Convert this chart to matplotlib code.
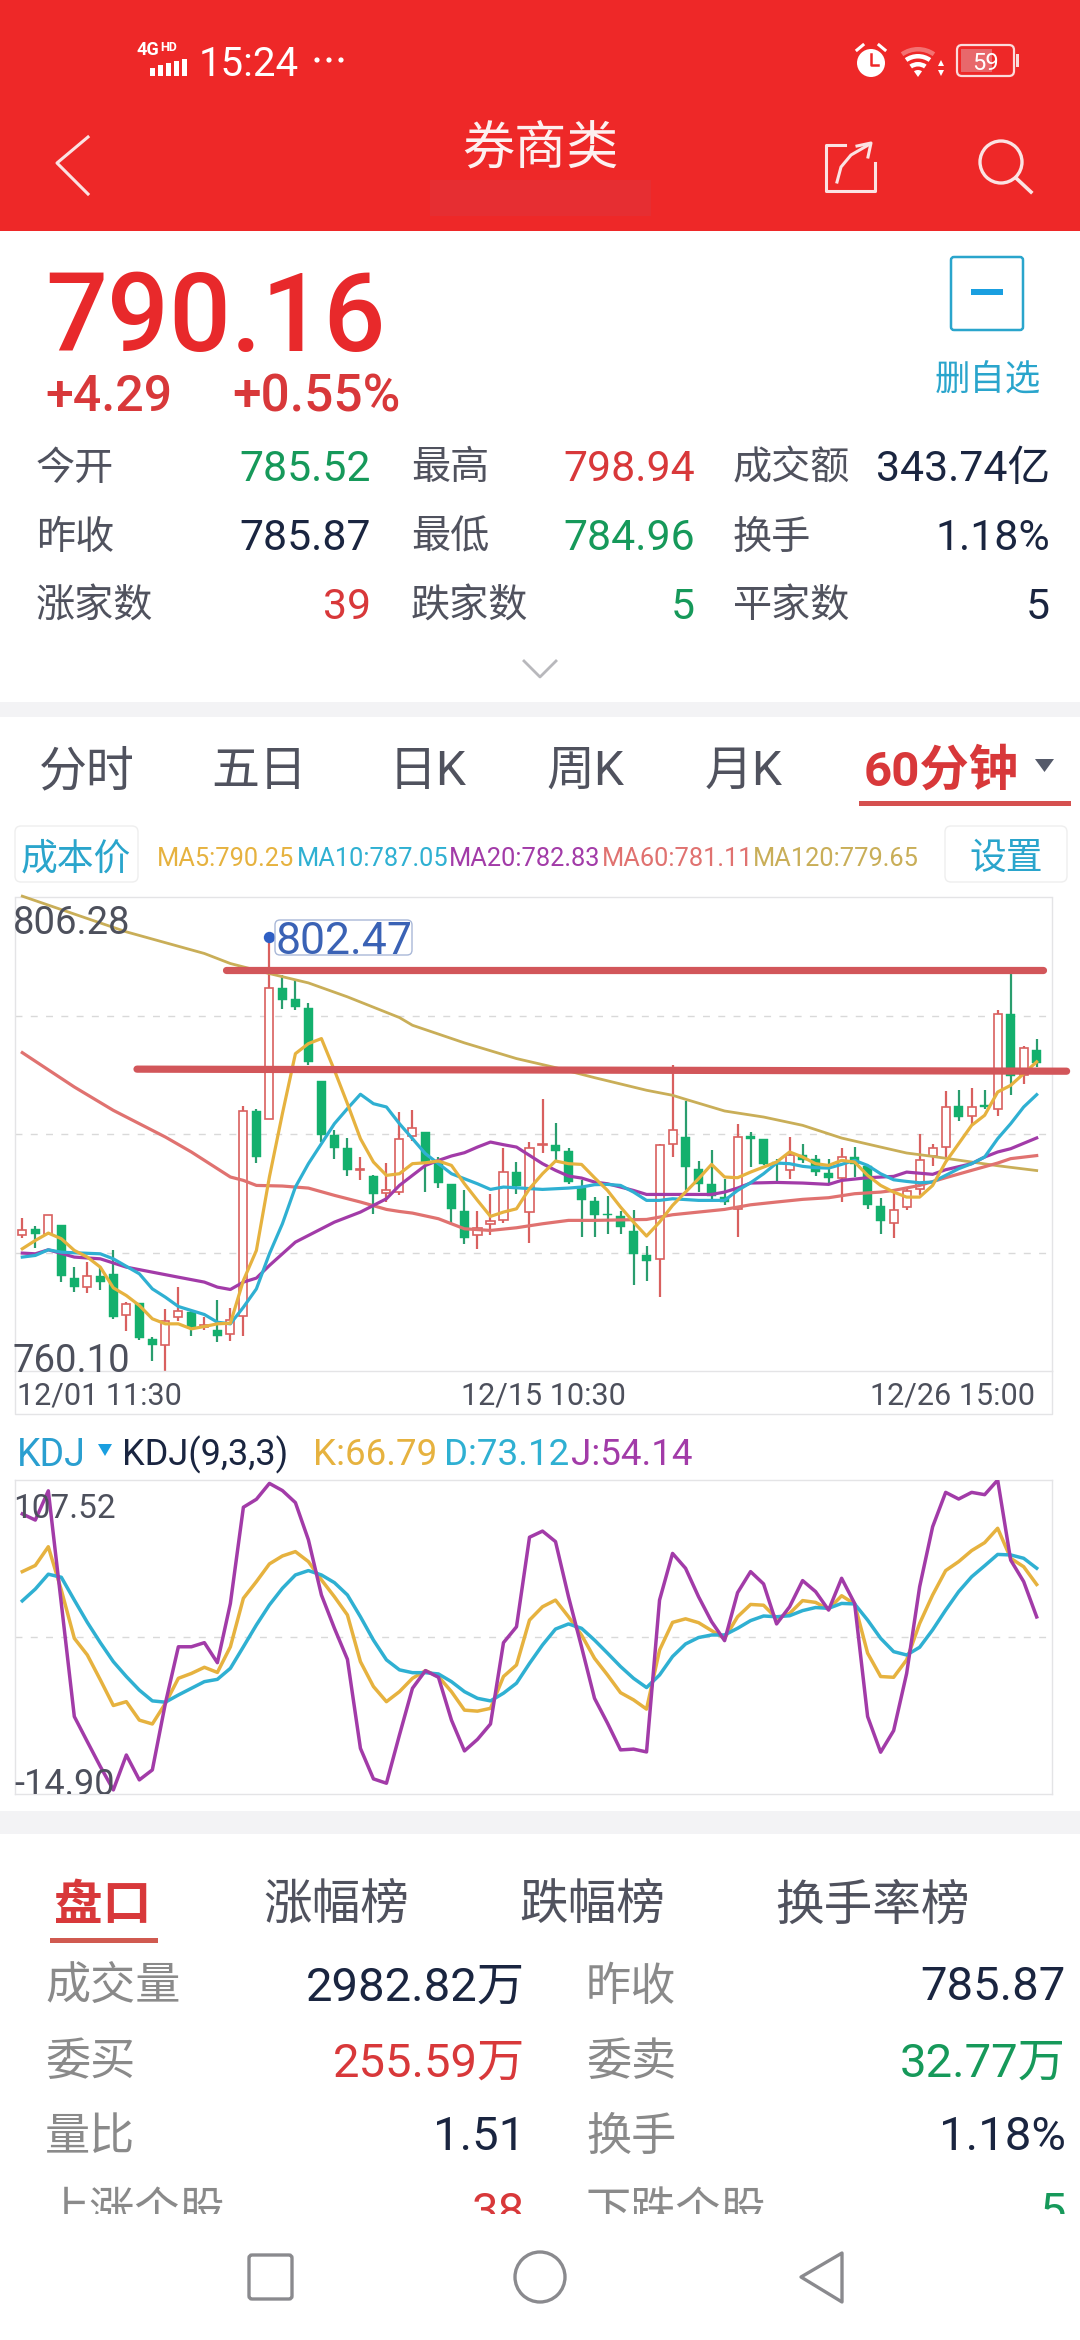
import numpy as np
import matplotlib
matplotlib.use("Agg")
import matplotlib.pyplot as plt
from matplotlib.patches import Rectangle, FancyBboxPatch, Circle, Polygon, Wedge

plt.rcParams['font.family'] = ['Roboto', 'Noto Sans CJK SC', 'DejaVu Sans']

# ---------- data ----------
opens = [773.35,773.97,773.48,774.36,769.19,768.28,769.32,769.58,765.61,766.75,763.23,762.65,765.35,765.84,764.37,764.11,763.72,765.51,785.43,784.68,
         797.50,796.42,795.55,788.35,783.15,781.88,779.67,779.11,777.45,777.55,782.99,783.41,780.48,778.30,775.70,773.32,774.46,774.85,779.50,775.57,
         782.11,782.11,781.52,777.97,776.67,775.44,775.18,773.71,771.37,771.04,782.27,782.92,779.83,778.36,777.06,775.86,782.99,782.69,780.48,779.67,
         781.20,780.81,779.44,778.95,780.97,780.12,776.15,774.56,776.09,777.88,781.07,781.94,785.95,784.97,786.01,785.69,794.96,788.94,791.45]
closes = [773.87,773.42,775.27,769.35,768.28,769.35,768.77,765.41,766.65,763.30,762.65,765.02,765.93,764.37,764.54,763.49,765.09,785.43,780.97,797.50,
          796.26,795.61,790.24,783.08,781.88,779.73,779.83,777.39,777.78,782.76,783.83,780.48,778.43,775.92,773.09,774.07,774.69,779.50,778.10,781.88,
          782.27,781.55,778.53,776.80,775.34,775.34,774.13,771.53,770.82,782.11,783.64,779.99,778.36,777.13,776.58,782.92,782.76,780.32,780.25,781.13,
          780.71,779.50,778.92,780.97,780.25,776.25,774.72,775.83,777.65,780.71,781.88,785.85,784.87,785.85,785.85,794.90,788.84,791.64,790.16]
highs = [775.05,774.26,775.27,774.36,770.29,770.72,770.23,771.86,766.81,766.75,763.46,766.16,768.34,766.06,765.41,767.04,766.26,785.91,785.69,802.47,
         798.70,798.38,796.00,788.35,783.57,782.86,780.97,779.18,780.41,785.36,785.52,783.41,780.97,778.30,777.71,775.70,777.39,781.88,780.48,782.43,
         786.66,784.32,781.88,778.69,777.06,777.13,775.70,775.76,772.31,782.21,789.92,786.43,780.58,781.68,778.85,784.22,783.41,782.76,780.81,782.92,
         782.27,781.20,780.81,781.88,781.94,780.15,777.00,777.71,777.88,783.25,782.21,787.38,787.48,787.74,787.48,795.29,798.86,791.77,792.52]
lows = [773.09,772.12,773.32,768.77,767.79,767.69,768.02,765.19,763.98,763.14,761.12,760.10,765.02,763.56,764.05,762.91,763.01,763.56,780.38,784.68,
        795.45,795.29,789.92,782.43,780.81,779.08,778.76,775.44,776.58,777.23,782.53,777.55,777.94,774.30,772.44,772.02,773.32,774.56,777.39,772.57,
        781.36,780.48,778.36,773.16,773.16,773.48,773.48,768.50,768.86,767.30,780.97,777.71,777.55,776.90,776.25,773.16,779.99,780.15,778.62,778.79,
        780.38,779.08,778.43,776.58,779.02,775.86,773.48,773.06,775.76,777.23,780.09,780.97,784.48,784.06,785.62,784.94,787.05,788.13,789.75]

ma5 = [772.02,772.83,773.55,773.00,771.86,771.21,770.23,768.21,767.46,766.49,765.19,764.70,764.70,764.21,764.44,764.70,764.76,768.93,771.86,779.02,
       785.20,791.05,792.03,792.52,789.43,786.17,782.76,780.48,779.18,779.34,780.32,780.41,780.58,780.15,778.36,776.74,775.18,775.60,775.92,777.88,
       779.34,780.58,780.32,780.25,778.95,777.71,776.09,774.62,773.26,774.62,776.25,777.55,778.85,780.25,779.02,778.95,779.50,779.99,780.48,781.46,
       780.97,780.32,780.15,780.64,780.48,779.18,778.20,777.55,777.06,777.06,778.20,780.48,782.27,784.06,785.04,787.31,787.96,789.10,790.25]
ma10_i = [0,1,2,3,4,6,7,9,10,11,12,14,15,16,17,18,19,20,21,22,23,24,25,26,27,28,29,30,31,32,33,34,35,36,37,38,40,42,43,44,45,46,47,48,49,50,52,54,55,56,57,58,59,60,61,62,63,64,65,66,67,68,69,70,71,72,73,74,75,76,77,78]
ma10 = [771.21,771.37,771.92,771.69,771.63,771.53,771.04,769.58,768.11,767.30,766.39,765.61,764.86,764.70,766.32,768.11,771.53,774.46,778.04,780.32,782.27,784.22,785.69,787.09,786.17,785.85,784.22,782.76,781.29,780.32,779.34,778.85,778.36,777.81,778.04,777.97,777.81,777.94,778.04,778.27,778.30,778.20,777.55,776.74,776.74,776.90,776.74,776.74,777.71,778.46,779.34,780.38,780.32,780.06,779.93,779.89,780.25,780.64,780.15,779.34,778.75,778.59,778.46,778.53,779.18,779.83,780.32,780.97,782.76,784.22,785.85,787.05]
ma20_i = [0,1,2,4,6,8,10,12,14,15,16,17,18,19,20,21,22,24,26,27,28,29,30,31,32,33,34,35,36,37,38,39,40,41,42,43,44,45,46,47,48,50,52,53,54,55,56,58,60,62,63,65,67,68,70,71,73,74,75,76,78]
ma20 = [771.60,771.53,771.92,771.21,771.04,770.23,769.74,769.25,768.77,768.28,768.05,768.77,769.16,770.39,771.53,772.67,773.32,774.62,775.60,776.25,776.90,778.20,779.18,780.15,780.64,781.07,781.39,781.94,782.43,782.17,781.94,781.13,780.32,779.67,779.11,778.92,778.53,778.36,778.04,777.71,777.32,777.32,777.32,777.32,777.55,777.94,778.43,778.49,778.43,778.30,778.69,778.95,779.08,779.50,779.28,779.73,780.32,780.97,781.46,781.78,782.83]
ma60_i = [0,4,7,11,13,16,17,18,20,22,24,26,28,29,30,32,34,36,38,40,42,44,48,50,52,54,56,58,60,62,64,66,67,69,71,73,75,76,78]
ma60 = [791.15,787.80,785.52,782.92,781.46,779.02,778.69,778.20,778.14,777.94,777.23,776.58,775.86,775.66,775.50,774.95,773.97,773.81,774.07,774.46,774.79,774.79,774.88,775.34,775.60,775.86,776.31,776.58,776.84,777.00,777.39,777.55,777.71,778.20,778.95,779.67,780.38,780.81,781.11]
ma120_i = [0,5,8,14,16,19,22,25,29,30,34,38,41,44,48,50,51,54,55,57,60,63,66,68,70,73,75,78]
ma120 = [806.41,804.23,802.93,800.82,799.84,798.86,797.95,796.59,794.57,793.82,792.10,790.57,789.69,788.71,787.48,786.99,786.60,785.46,785.26,784.87,784.06,782.82,781.94,781.36,781.03,780.48,780.12,779.65]

kdj_k = [71.8,74.2,81.5,64.6,45.8,39.3,29.6,19.6,21.1,13.9,12.4,20.4,30.2,32.1,34.5,32.5,42.5,61.4,67.9,74.8,77.9,79.6,75.7,68.6,62.0,54.9,36.7,27.0,21.1,25.0,30.2,33.2,30.9,25.0,17.8,17.4,18.5,30.9,35.4,52.9,
         58.1,60.7,54.2,47.1,38.0,31.5,24.6,21.8,18.2,41.2,52.0,53.4,51.9,48.8,45.8,54.2,59.0,58.7,53.6,55.5,60.5,59.8,57.1,62.4,59.2,40.0,30.9,30.6,37.4,51.6,62.7,72.2,75.7,80.0,83.1,88.7,77.0,73.7,66.79]
kdj_d = [60.4,65.0,70.8,69.6,60.7,52.0,44.1,36.7,30.9,25.6,21.4,20.9,23.7,26.3,28.9,29.8,34.1,42.5,51.0,58.8,65.3,70.5,72.2,70.5,67.5,62.7,54.2,45.1,37.4,33.5,32.4,32.4,31.9,28.9,25.0,22.4,21.4,24.4,28.3,36.0,
         43.2,49.4,51.4,49.7,45.1,40.0,34.8,30.2,26.6,31.5,38.7,43.6,46.1,47.1,47.1,49.7,52.7,54.5,54.2,54.6,56.6,57.8,57.5,59.4,59.2,52.9,45.8,40.6,39.3,42.3,49.1,56.8,64.0,69.8,74.1,78.5,78.3,77.0,73.12]
kdj_j = [94.3,91.9,103.3,59.4,15.3,5.5,-4.2,-13.3,0.3,-9.4,-5.5,20.4,42.5,42.5,44.1,36.3,59.4,96.9,100.0,106.2,103.4,98.7,84.2,62.7,49.7,37.6,2.9,-9.0,-10.7,8.1,26.3,33.2,30.6,13.9,1.9,6.4,12.4,44.1,50.3,85.2,
         87.6,83.5,62.0,42.5,22.4,12.7,2.3,2.6,1.5,60.7,78.9,73.1,62.0,52.3,44.9,63.6,71.8,67.0,51.4,58.1,68.3,64.0,56.8,69.2,59.4,15.3,1.4,9.8,32.1,65.9,89.3,102.7,100.1,102.7,101.8,107.5,76.3,67.9,54.14]

price_max, price_min = 806.28, 760.10
kdj_max, kdj_min = 107.52, -14.90
peak_label = "802.47"
date_labels = ["12/01 11:30", "12/15 10:30", "12/26 15:00"]
ma_legend = ["MA5:790.25", "MA10:787.05", "MA20:782.83", "MA60:781.11", "MA120:779.65"]
resistance = [(15.66, 78.5, 799.20, 799.20), (8.82, 80.3, 789.54, 789.34)]

# ---------- colours ----------
RED_BAR = '#ee2828'; UP = '#d9605f'; DOWN = '#13b06d'; DOWN_W = '#2a9d6e'
C_MA5 = '#e6b23f'; C_MA10 = '#2fb0d2'; C_MA20 = '#a23ba8'; C_MA60 = '#e07270'; C_MA120 = '#c9ae58'
TXT_RED = '#d8383a'; TXT_GREEN = '#16995a'; TXT_DARK = '#1a2540'; TXT_LAB = '#50525e'; TXT_GRAY = '#8a8a8a'
TEAL = '#2aa5cc'; FRAME = '#e4e4e6'; GRID = '#d9d9d9'; BAND = '#f3f3f5'

W, H = 1080, 2340
fig = plt.figure(figsize=(W/100, H/100), dpi=100, facecolor='white')

def px_axes(l, t, r, b, z):
    return fig.add_axes([l/W, 1-b/H, (r-l)/W, (b-t)/H], zorder=z)

# background layer
bg = px_axes(0, 0, W, H, 0)
bg.set_xlim(0, W); bg.set_ylim(H, 0); bg.axis('off')
bg.add_patch(Rectangle((0, 0), W, 231, color=RED_BAR, lw=0))
bg.add_patch(Rectangle((0, 702), W, 15, color=BAND, lw=0))
bg.add_patch(Rectangle((0, 1811), W, 23, color=BAND, lw=0))
bg.plot([15, 15, 1052, 1052], [1371, 1414, 1414, 1371], color=FRAME, lw=1)

X0 = 22.3; DX = 13.005
L, R = 15, 1052
def xlim_of():
    return ((L-X0)/DX, (R-X0)/DX)

# ---------- price axes ----------
ax = px_axes(L, 897.5, R, 1371, 1)
ax.set_xlim(*xlim_of()); ax.set_ylim(price_min, price_max)
ax.set_facecolor('none')
for s in ax.spines.values():
    s.set_color(FRAME); s.set_linewidth(1)
ax.set_xticks([])
step = (price_max-price_min)/4
ax.set_yticks([price_min+step*k for k in (1, 2, 3)])
ax.tick_params(length=0, labelleft=False)
ax.grid(axis='y', color=GRID, lw=1, ls=(0, (5, 6)))
ax.set_axisbelow(True)

n = len(opens)
xs = np.arange(n)
o, c, h, l = map(np.array, (opens, closes, highs, lows))
up = c >= o
top = np.maximum(o, c); bot = np.minimum(o, c)
ax.vlines(xs[up], top[up], h[up], color=UP, lw=1.6, zorder=2)
ax.vlines(xs[up], l[up], bot[up], color=UP, lw=1.6, zorder=2)
ax.vlines(xs[~up], l[~up], h[~up], color=DOWN_W, lw=1.6, zorder=2)
ax.bar(xs[up], (top-bot)[up], bottom=bot[up], width=0.62, facecolor='white', edgecolor=UP, lw=1.2, zorder=3)
ax.bar(xs[~up], (top-bot)[~up], bottom=bot[~up], width=0.72, facecolor=DOWN, edgecolor=DOWN, lw=0.3, zorder=3)

ax.plot(ma120_i, ma120, color=C_MA120, lw=2.0, zorder=4, clip_on=False, solid_joinstyle='round')
ax.plot(ma60_i, ma60, color=C_MA60, lw=2.3, zorder=4, solid_joinstyle='round')
ax.plot(ma20_i, ma20, color=C_MA20, lw=2.3, zorder=5, solid_joinstyle='round')
ax.plot(ma10_i, ma10, color=C_MA10, lw=2.3, zorder=5, solid_joinstyle='round')
ax.plot(xs, ma5, color=C_MA5, lw=2.3, zorder=6, solid_joinstyle='round')
for x1, x2, y1, y2 in resistance:
    ax.plot([x1, x2], [y1, y2], color='#d2565a', lw=5.2, solid_capstyle='round', zorder=7, clip_on=False)
peak_i = int(np.argmax(h))
ax.plot([peak_i], [h[peak_i]], 'o', color='#2f5fc4', ms=8.2, mew=0, zorder=8)

# ---------- KDJ axes ----------
ax2 = px_axes(L, 1480, R, 1794, 1)
ax2.set_xlim(*xlim_of()); ax2.set_ylim(kdj_min, kdj_max)
ax2.set_facecolor('none')
for s in ax2.spines.values():
    s.set_color(FRAME); s.set_linewidth(1)
ax2.set_xticks([]); ax2.set_yticks([(kdj_max+kdj_min)/2])
ax2.tick_params(length=0, labelleft=False)
ax2.grid(axis='y', color=GRID, lw=1, ls=(0, (5, 6)))
ax2.set_axisbelow(True)
ax2.plot(xs, kdj_k, color=C_MA5, lw=2.5, zorder=3)
ax2.plot(xs, kdj_d, color=C_MA10, lw=2.5, zorder=4)
ax2.plot(xs, kdj_j, color=C_MA20, lw=2.5, zorder=5)

# ---------- overlay ----------
ui = px_axes(0, 0, W, H, 5)
ui.set_xlim(0, W); ui.set_ylim(H, 0); ui.axis('off'); ui.patch.set_alpha(0)

def T(x, y, s, size, color, ha='left', weight='normal', clip=None):
    t = ui.text(x, y, s, fontsize=size, color=color, ha=ha, va='center_baseline', fontweight=weight)
    if clip is not None:
        t.set_clip_on(True)
        t.set_clip_path(Rectangle((0, 0), W, clip, transform=ui.transData))
    return t

# status bar
T(136, 48, "4G", 13, 'white', weight='bold')
T(160, 46, "HD", 9, 'white', weight='bold')
for k, hh in enumerate((8, 11, 13, 15, 17)):
    ui.add_patch(Rectangle((150+k*8, 76-hh), 5, hh, color='white', lw=0))
T(199, 60, "15:24", 29, 'white')
for dx in (317, 329, 341):
    ui.add_patch(Circle((dx, 60), 2.6, color='white', lw=0))
ui.add_patch(Circle((871, 63), 14, color='white', lw=0))
ui.plot([871, 871, 878], [54, 65, 65], color=RED_BAR, lw=1.8)
ui.plot([857, 863], [50, 45], color='white', lw=2.2)
ui.plot([885, 879], [50, 45], color='white', lw=2.2)
for r, a in ((30, 0.35), (23, 1), (15, 1)):
    ui.add_patch(Wedge((918, 77), r, 235, 305, width=4.5, color='white', alpha=a, lw=0))
ui.add_patch(Wedge((918, 77), 7, 235, 305, color='white', lw=0))
ui.add_patch(Polygon([[938, 66], [944, 66], [941, 60]], color='white', lw=0))
ui.add_patch(Polygon([[938, 70], [944, 70], [941, 76]], color='white', lw=0))
ui.add_patch(FancyBboxPatch((957, 45), 57, 31, boxstyle="round,pad=0,rounding_size=5", fc='none', ec='#fbdcdc', lw=1.6))
ui.add_patch(Rectangle((961, 49), 31, 23, color='#e8686b', lw=0))
ui.add_patch(Rectangle((1016, 54), 2.5, 13, color='#fbdcdc', lw=0))
T(985, 61, "59", 17, 'white', ha='center')

# title row
ui.plot([88, 57, 88], [137, 163, 194], color='#fbe3e3', lw=2.2)
T(540, 145, "券商类", 37.5, '#fdf0f0', ha='center')
ui.add_patch(Rectangle((430, 180), 221, 36, color='#e62e32', lw=0))
ui.plot([845, 826, 826, 875, 875], [145, 145, 191, 191, 163], color='#fbe3e3', lw=2.2)
ui.plot([837, 841, 851, 870], [182, 167, 155, 144], color='#fbe3e3', lw=2.2)
ui.plot([857, 871, 868], [146, 143, 157], color='#fbe3e3', lw=2.2)
ui.add_patch(Circle((1001, 162), 21, fc='none', ec='#fbe3e3', lw=2.4))
ui.plot([1016, 1031], [178, 192], color='#fbe3e3', lw=2.6)

# quote block
T(45, 310, "790.16", 78.5, '#e8292b', weight=500)
T(45, 392, "+4.29", 36, TXT_RED, weight=500)
T(232, 392, "+0.55%", 37, TXT_RED, weight=500)
ui.add_patch(FancyBboxPatch((951, 257), 72, 73, boxstyle="round,pad=0,rounding_size=3", fc='none', ec='#2aa5cc', lw=1.8))
ui.add_patch(Rectangle((971, 289), 32, 6, color='#1a9fe0', lw=0))
T(988, 377, "删自选", 25.5, TEAL, ha='center')

rows = [(465, "今开", "785.52", TXT_GREEN, "最高", "798.94", TXT_RED, "成交额", "343.74亿", TXT_DARK),
        (534, "昨收", "785.87", TXT_DARK, "最低", "784.96", TXT_GREEN, "换手", "1.18%", TXT_DARK),
        (603, "涨家数", "39", TXT_RED, "跌家数", "5", TXT_GREEN, "平家数", "5", TXT_DARK)]
for y, a, av, ac, b, bv, bc, d, dv, dc in rows:
    T(36, y, a, 28.2, TXT_LAB); T(371, y, av, 30.8, ac, ha='right')
    T(411, y, b, 28.2, TXT_LAB); T(695, y, bv, 30.8, bc, ha='right')
    T(733, y, d, 28.2, TXT_LAB); T(1050, y, dv, 30.8, dc, ha='right')
ui.plot([524, 540, 556], [661, 677, 661], color='#b8b8bc', lw=2)

# period tabs
for cx, s in ((87, "分时"), (259, "五日"), (428, "日K"), (585, "周K"), (744, "月K")):
    T(cx, 767, s, 34.5, TXT_LAB, ha='center')
T(941, 767, "60分钟", 35.5, TXT_RED, ha='center', weight='bold')
ui.add_patch(Polygon([[1035, 759], [1054, 759], [1044.5, 772]], color='#555a6a', lw=0))
ui.add_patch(Rectangle((859, 801), 212, 5, color='#d5504f', lw=0))

# legend row
ui.add_patch(FancyBboxPatch((15, 826), 123, 56, boxstyle="round,pad=0,rounding_size=6", fc='white', ec='#eeeeee', lw=1))
ui.add_patch(FancyBboxPatch((945, 826), 122, 56, boxstyle="round,pad=0,rounding_size=6", fc='white', ec='#eeeeee', lw=1))
T(76, 855, "成本价", 26.5, TEAL, ha='center')
T(1006, 855, "设置", 26.5, TEAL, ha='center')
for x, s, col in zip((157, 297, 449, 602, 753), ma_legend, (C_MA5, C_MA10, C_MA20, C_MA60, C_MA120)):
    T(x, 857, s, 18.3, col)

# price labels
AXT = '#4d505c'
T(13, 920, f"{price_max:.2f}", 27.5, AXT)
T(12, 1358, f"{price_min:.2f}", 27.5, AXT)
T(17, 1393, date_labels[0], 22, AXT)
T(543, 1393, date_labels[1], 22, AXT, ha='center')
T(1035, 1393, date_labels[2], 22, AXT, ha='right')
ui.add_patch(FancyBboxPatch((275, 920), 137, 35, boxstyle="round,pad=0,rounding_size=5", fc='none', ec='#a9b8d8', lw=1))
T(344, 938, peak_label, 32, '#3a62b5', ha='center')

# KDJ header
T(17, 1451, "KDJ", 27, '#2a9fd0')
ui.add_patch(Polygon([[98, 1444], [112, 1444], [105, 1456]], color='#1a9fe0', lw=0))
T(122, 1451, "KDJ(9,3,3)", 26, TXT_DARK)
T(313, 1451, "K:66.79", 26.5, C_MA5)
T(444, 1451, "D:73.12", 26.5, C_MA10)
T(571, 1451, "J:54.14", 26.5, C_MA20)
T(13, 1505, f"{kdj_max:.2f}", 24, AXT)
T(14, 1781, f"{kdj_min:.2f}", 26, AXT, clip=1794)

# lower tabs
T(103, 1902, "盘口", 35, TXT_RED, ha='center', weight='bold')
T(336, 1902, "涨幅榜", 35, TXT_LAB, ha='center')
T(592, 1902, "跌幅榜", 35, TXT_LAB, ha='center')
T(872, 1902, "换手率榜", 35, TXT_LAB, ha='center')
ui.add_patch(Rectangle((50, 1938), 108, 5, color='#d05a50', lw=0))

rows2 = [(1983, "成交量", "2982.82万", TXT_DARK, "昨收", "785.87", TXT_DARK),
         (2059, "委买", "255.59万", TXT_RED, "委卖", "32.77万", TXT_GREEN),
         (2133, "量比", "1.51", TXT_DARK, "换手", "1.18%", TXT_DARK),
         (2208, "上涨个股", "38", TXT_RED, "下跌个股", "5", TXT_GREEN)]
for y, a, av, ac, b, bv, bc in rows2:
    T(45, y, a, 32.5, TXT_GRAY, clip=2214); T(525, y, av, 34, ac, ha='right', clip=2214)
    T(586, y, b, 32.5, TXT_GRAY, clip=2214); T(1066, y, bv, 34, bc, ha='right', clip=2214)

# navigation bar
NAV = '#8a8a8e'
ui.add_patch(FancyBboxPatch((249, 2255), 43, 44, boxstyle="round,pad=0,rounding_size=3", fc='none', ec=NAV, lw=2.4))
ui.add_patch(Circle((540, 2277), 25, fc='none', ec=NAV, lw=2.4))
ui.add_patch(Polygon([[842, 2253], [842, 2302], [801, 2277]], closed=True, fc='none', ec=NAV, lw=2.4, joinstyle='round'))

fig.savefig('out.png', dpi=100, facecolor='white')
